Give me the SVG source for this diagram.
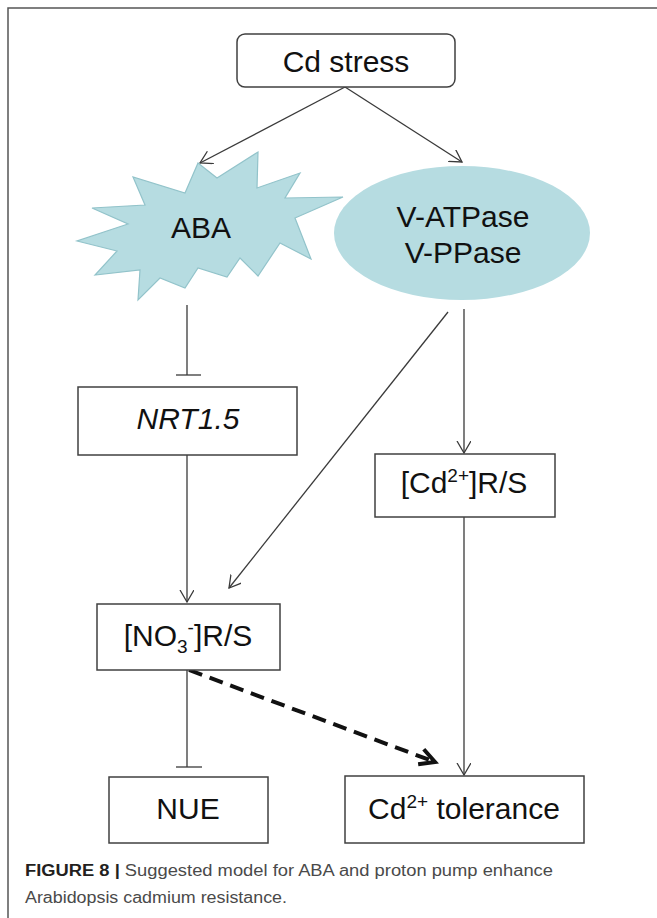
<svg xmlns="http://www.w3.org/2000/svg" width="657" height="918" viewBox="0 0 657 918">
<defs>
<style>
.box{fill:#fff;stroke:#404040;stroke-width:1.5}
.lbl{font-family:"Liberation Sans",Arial,sans-serif;font-size:30px;fill:#111;text-anchor:middle}
.con{fill:none;stroke:#3a3a3a;stroke-width:1.3}
.shape{fill:#b6dce1;stroke:#92c3ca;stroke-width:1.2}
.cap{font-family:"Liberation Sans",Arial,sans-serif;font-size:16px}
</style>
<marker id="arr" markerUnits="userSpaceOnUse" markerWidth="16" markerHeight="16" refX="12" refY="7" orient="auto">
<path d="M0,0 L12,7 L0,14" fill="none" stroke="#3a3a3a" stroke-width="1.3"/>
</marker>
<marker id="arrBold" markerUnits="userSpaceOnUse" markerWidth="24" markerHeight="24" refX="17" refY="10" orient="auto">
<path d="M2,2 L17,10 L2,18" fill="none" stroke="#111" stroke-width="4"/>
</marker>
</defs>
<rect width="657" height="918" fill="#fff"/>
<path d="M8,918 V8 H657" fill="none" stroke="#555" stroke-width="1.5"/>

<g id="connectors">
<line class="con" x1="345" y1="87" x2="200" y2="163" marker-end="url(#arr)"/>
<line class="con" x1="345" y1="87" x2="462" y2="162" marker-end="url(#arr)"/>
<line class="con" x1="187" y1="305" x2="187" y2="375"/>
<line class="con" x1="176" y1="375" x2="201" y2="375"/>
<line class="con" x1="187" y1="455" x2="187" y2="602" marker-end="url(#arr)"/>
<line class="con" x1="448" y1="312" x2="229" y2="588" marker-end="url(#arr)"/>
<line class="con" x1="464" y1="309" x2="464" y2="453" marker-end="url(#arr)"/>
<line class="con" x1="464" y1="517" x2="464" y2="775" marker-end="url(#arr)"/>
<line class="con" x1="187" y1="670" x2="187" y2="767"/>
<line class="con" x1="176" y1="767" x2="202" y2="767"/>
<line x1="189" y1="670" x2="435" y2="762" fill="none" stroke="#111" stroke-width="4" stroke-dasharray="14,8" marker-end="url(#arrBold)"/>
</g>

<g id="cd-stress">
<rect class="box" x="237" y="34" width="218" height="53" rx="8"/>
<text class="lbl" x="346" y="72">Cd stress</text>
</g>

<g id="aba">
<polygon class="shape" points="198,163 217,178 258,152 257,188 300,173 285,198 343,197 295,218 311,259 280,243 258,276 240,258 227,277 198,268 185,288 160,278 138,300 140,270 95,275 117,251 77,241 128,224 92,208 145,205 133,177 185,193"/>
<text class="lbl" x="201" y="238">ABA</text>
</g>

<g id="pumps">
<ellipse cx="462" cy="233" rx="128" ry="67" fill="#b6dce1"/>
<text class="lbl" x="463" y="227">V-ATPase</text>
<text class="lbl" x="463" y="263">V-PPase</text>
</g>

<g id="nrt">
<rect class="box" x="78" y="387" width="219" height="68"/>
<text class="lbl" x="188" y="429" font-style="italic">NRT1.5</text>
</g>

<g id="cd-rs">
<rect class="box" x="375" y="454" width="180" height="63"/>
<text class="lbl" x="464" y="493">[Cd<tspan font-size="19" dy="-11">2+</tspan><tspan dy="11">]R/S</tspan></text>
</g>

<g id="no3-rs">
<rect class="box" x="97" y="604" width="183" height="66"/>
<text class="lbl" x="188" y="646">[NO<tspan font-size="19" dy="7">3</tspan><tspan font-size="19" dy="-19">-</tspan><tspan dy="12">]R/S</tspan></text>
</g>

<g id="nue">
<rect class="box" x="109" y="777" width="159" height="66"/>
<text class="lbl" x="188" y="819">NUE</text>
</g>

<g id="tolerance">
<rect class="box" x="345" y="776" width="239" height="67"/>
<text class="lbl" x="464" y="819">Cd<tspan font-size="19" dy="-11">2+</tspan><tspan dy="11"> tolerance</tspan></text>
</g>

<g id="caption">
<text class="cap" x="25" y="876" textLength="528" lengthAdjust="spacingAndGlyphs"><tspan font-weight="bold" fill="#231f20">FIGURE 8 | </tspan><tspan fill="#4a4a4a">Suggested model for ABA and proton pump enhance</tspan></text>
<text class="cap" x="25" y="903" fill="#4a4a4a" textLength="262" lengthAdjust="spacingAndGlyphs">Arabidopsis cadmium resistance.</text>
</g>
</svg>
